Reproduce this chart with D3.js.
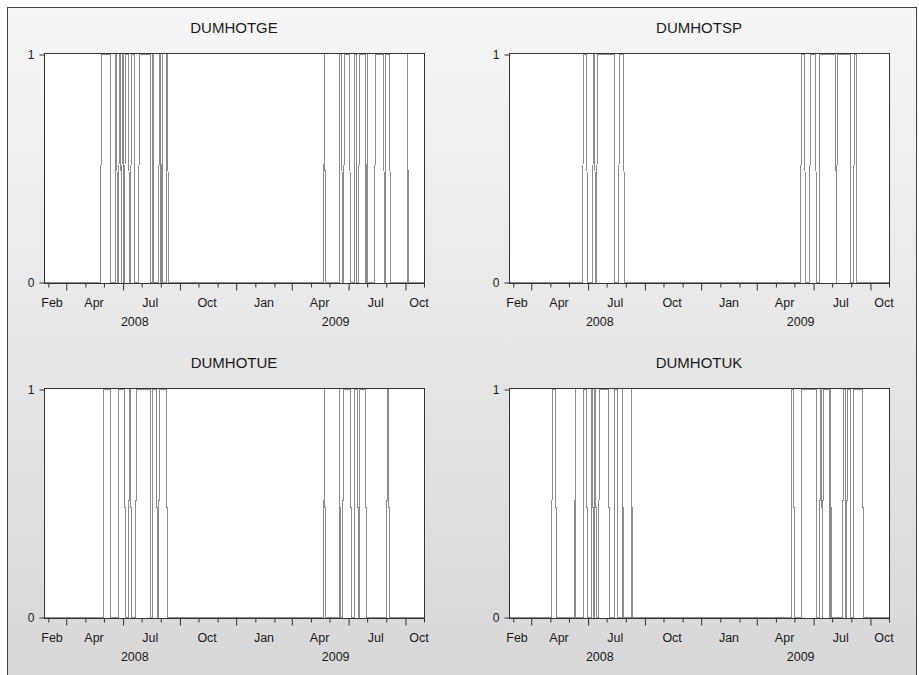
<!DOCTYPE html>
<html>
<head>
<meta charset="utf-8">
<script src="https://cdn.jsdelivr.net/npm/d3@7"></script>
<style>
body { margin: 0; background: #fff; }
text { font-family: "Liberation Sans", Arial, sans-serif; fill: #1a1a1a; }
</style>
</head>
<body>
<div id="chart"></div>
<script>
//----------------------------
// Data
//----------------------------
var seriesNames = ["DUMHOTGE", "DUMHOTSP", "DUMHOTUE", "DUMHOTUK"];

// hot spells: first and last day where the dummy equals 1
var dumhotge = [
    ["2008-04-27", "2008-05-11"], ["2008-05-20", "2008-05-22"], ["2008-05-26", "2008-05-28"],
    ["2008-05-31", "2008-06-01"], ["2008-06-05", "2008-06-10"], ["2008-06-14", "2008-06-19"],
    ["2008-06-27", "2008-07-15"], ["2008-07-19", "2008-07-20"], ["2008-07-30", "2008-07-31"],
    ["2008-08-03", "2008-08-03"], ["2008-08-11", "2008-08-12"],
    ["2009-04-23", "2009-04-23"], ["2009-05-18", "2009-05-21"], ["2009-05-25", "2009-06-03"],
    ["2009-06-11", "2009-06-13"], ["2009-06-18", "2009-06-28"], ["2009-07-01", "2009-07-01"],
    ["2009-07-14", "2009-07-28"], ["2009-07-31", "2009-08-06"], ["2009-09-05", "2009-09-05"]
];
var dumhotsp = [
    ["2008-05-24", "2008-05-30"], ["2008-06-09", "2008-06-12"], ["2008-06-16", "2008-07-13"],
    ["2008-07-22", "2008-07-29"],
    ["2009-05-12", "2009-05-18"], ["2009-05-27", "2009-06-04"], ["2009-06-11", "2009-07-07"],
    ["2009-07-09", "2009-07-30"], ["2009-08-06", "2009-08-09"]
];
var dumhotue = [
    ["2008-05-01", "2008-05-11"], ["2008-05-25", "2008-06-04"], ["2008-06-11", "2008-06-13"],
    ["2008-06-22", "2008-07-15"], ["2008-07-19", "2008-07-25"], ["2008-07-30", "2008-08-11"],
    ["2009-04-23", "2009-04-23"], ["2009-05-18", "2009-05-18"], ["2009-05-23", "2009-06-04"],
    ["2009-06-11", "2009-06-16"], ["2009-06-19", "2009-06-29"], ["2009-08-03", "2009-08-05"]
];
var dumhotuk = [
    ["2008-04-04", "2008-04-10"], ["2008-05-11", "2008-05-11"], ["2008-05-25", "2008-05-30"],
    ["2008-06-07", "2008-06-08"], ["2008-06-12", "2008-06-13"], ["2008-06-19", "2008-07-04"],
    ["2008-07-14", "2008-07-18"], ["2008-07-27", "2008-07-27"], ["2008-08-11", "2008-08-11"],
    ["2009-04-27", "2009-04-30"], ["2009-05-13", "2009-06-05"], ["2009-06-12", "2009-06-14"],
    ["2009-06-17", "2009-06-26"], ["2009-06-29", "2009-06-29"], ["2009-07-19", "2009-07-22"],
    ["2009-07-26", "2009-07-30"], ["2009-08-05", "2009-08-19"]
];
var allSpells = [dumhotge, dumhotsp, dumhotue, dumhotuk];

var dateRange = ["2008-01-25", "2009-10-01"];
var yTicks = [0, 1];
var monthLabels = [["Feb", "2008-02-07"], ["Apr", "2008-04-15"], ["Jul", "2008-07-15"], ["Oct", "2008-10-15"],
                   ["Jan", "2009-01-15"], ["Apr", "2009-04-15"], ["Jul", "2009-07-15"], ["Oct", "2009-09-23"]];
var yearLabels = [["2008", "2008-06-20"], ["2009", "2009-05-11"]];

//----------------------------
// Layout
//----------------------------
var width = 919, height = 675;
var pWidth = 380, pHeight = 229;
var panelPos = [[44, 54], [509, 54], [44, 389], [509, 389]];

var parseDate = d3.timeParse("%Y-%m-%d");
var startDate = parseDate(dateRange[0]),
    endDate = parseDate(dateRange[1]);

var svg = d3.select("#chart")
    .append("svg")
    .attr("width", width)
    .attr("height", height);

// background gradient
var grad = svg.append("defs").append("linearGradient")
    .attr("id", "bg")
    .attr("x1", 0).attr("y1", 0).attr("x2", 0).attr("y2", 1);
grad.append("stop").attr("offset", "0%").attr("stop-color", "#f6f6f6");
grad.append("stop").attr("offset", "100%").attr("stop-color", "#d7d7d7");

svg.append("rect")
    .attr("x", 7.5).attr("y", 7.5)
    .attr("width", 909).attr("height", 680)
    .attr("fill", "url(#bg)")
    .attr("stroke", "#444");

// turn the spells into a daily 0/1 line
function buildSeries(spells) {
    let pts = [{date: startDate, value: 0}];
    spells.forEach(function (s) {
        let a = parseDate(s[0]), b = parseDate(s[1]);
        pts.push({date: d3.timeDay.offset(a, -1), value: 0});
        pts.push({date: a, value: 1});
        pts.push({date: b, value: 1});
        pts.push({date: d3.timeDay.offset(b, 1), value: 0});
    });
    pts.push({date: endDate, value: 0});
    return pts;
}

//----------------------------
// Draw one panel
//----------------------------
function drawPanel(i) {
    let px = panelPos[i][0], py = panelPos[i][1];
    let g = svg.append("g").attr("transform", "translate(" + px + "," + py + ")");

    let xScale = d3.scaleTime().domain([startDate, endDate]).range([0, pWidth]);
    let yScale = d3.scaleLinear().domain([0, 1]).range([pHeight - 0.5, 0.5]);

    // plot area
    g.append("rect")
        .attr("x", 0.5).attr("y", -0.5)
        .attr("width", pWidth).attr("height", pHeight + 1)
        .attr("fill", "#fff");

    // the series (snapped to pixel columns, like the original screen drawing)
    let line = d3.line()
        .x(d => Math.floor(xScale(d.date)) + 0.5)
        .y(d => yScale(d.value));
    g.append("path")
        .datum(buildSeries(allSpells[i]))
        .attr("d", line)
        .attr("fill", "none")
        .attr("stroke", "#8c8c8c")
        .attr("stroke-width", 1)
        .attr("shape-rendering", "crispEdges");

    // frame
    g.append("rect")
        .attr("x", 0.5).attr("y", -0.5)
        .attr("width", pWidth).attr("height", pHeight + 1)
        .attr("fill", "none")
        .attr("stroke", "#333")
        .attr("shape-rendering", "crispEdges");

    // y axis
    let yAxis = g.append("g")
        .attr("transform", "translate(0.5,0)")
        .call(d3.axisLeft(yScale).tickValues(yTicks).tickSize(5).tickPadding(5).tickFormat(d3.format("d")));
    yAxis.select(".domain").remove();
    yAxis.selectAll("line").attr("stroke", "#333");
    yAxis.selectAll("text").style("font-size", "12px").attr("font-family", null);

    // x axis: month ticks, longer every quarter
    let months = d3.timeMonth.range(d3.timeMonth.ceil(startDate), d3.timeDay.offset(endDate, 1));
    let xAxis = g.append("g")
        .attr("transform", "translate(0," + (pHeight + 0.5) + ")")
        .call(d3.axisBottom(xScale).tickValues(months).tickSize(4).tickFormat(""));
    xAxis.select(".domain").remove();
    xAxis.selectAll("line")
        .attr("stroke", "#333")
        .attr("y2", d => (d.getMonth() % 3 === 2) ? 7 : 4);

    // month and year labels
    g.selectAll(".month")
        .data(monthLabels)
        .enter().append("text")
        .attr("class", "month")
        .attr("x", d => xScale(parseDate(d[1])))
        .attr("y", pHeight + 23.5)
        .attr("text-anchor", "middle")
        .style("font-size", "12.5px")
        .text(d => d[0]);

    g.selectAll(".year")
        .data(yearLabels)
        .enter().append("text")
        .attr("class", "year")
        .attr("x", d => xScale(parseDate(d[1])))
        .attr("y", pHeight + 42.5)
        .attr("text-anchor", "middle")
        .style("font-size", "12.5px")
        .text(d => d[0]);

    // title
    g.append("text")
        .attr("x", pWidth / 2)
        .attr("y", -21.5)
        .attr("text-anchor", "middle")
        .style("font-size", "15px")
        .text(seriesNames[i]);
}

for (let i = 0; i < 4; i++) {
    drawPanel(i);
}
</script>
</body>
</html>
